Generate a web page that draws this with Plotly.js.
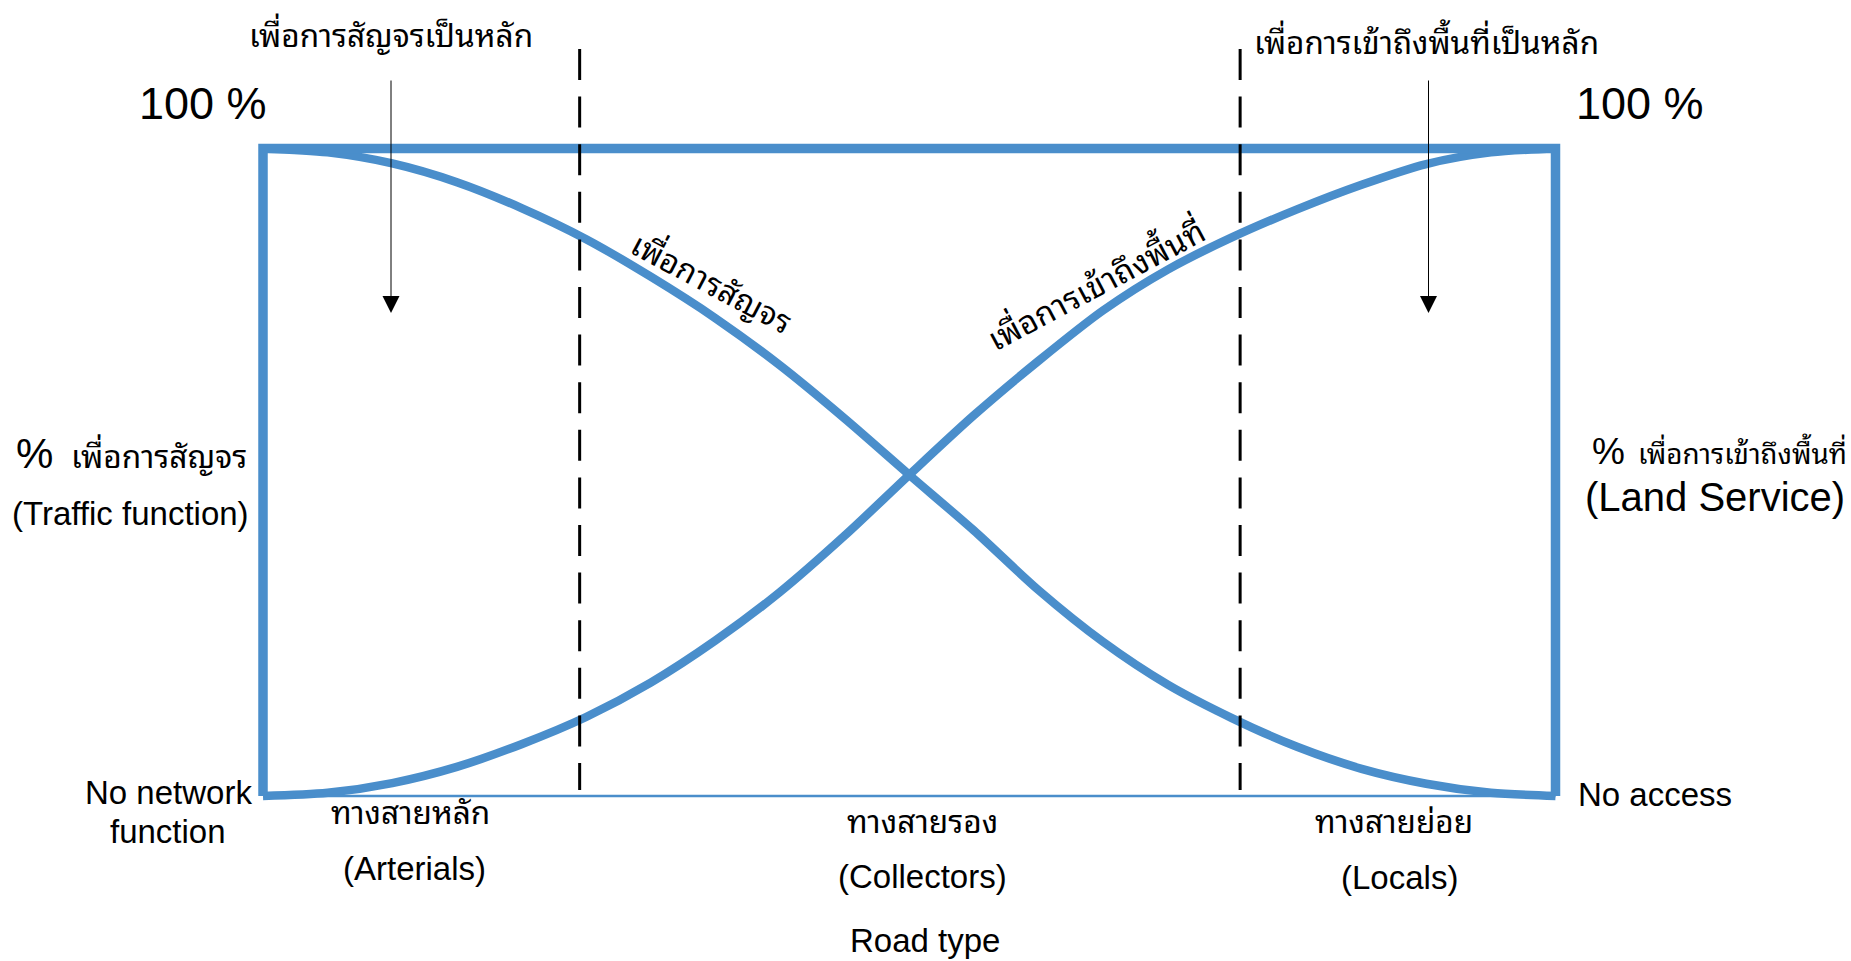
<!DOCTYPE html>
<html>
<head>
<meta charset="utf-8">
<script src="https://cdn.plot.ly/plotly-3.0.1.min.js"></script>
<style>
html,body{margin:0;padding:0;background:#ffffff;}
#chart{width:1851px;height:961px;}
</style>
</head>
<body>
<div id="chart"></div>
<script>
// ---------------- data ----------------
// position along the road hierarchy: 0 = arterial end, 1 = local end
const position = [0, 0.05, 0.1, 0.15, 0.2, 0.25, 0.3, 0.35, 0.4, 0.45, 0.5,
                  0.55, 0.6, 0.65, 0.7, 0.75, 0.8, 0.85, 0.9, 0.95, 1];
// % traffic function (เพื่อการสัญจร)
const trafficPct = [100, 99.4, 97.7, 94.8, 90.8, 86.0, 80.2, 73.8, 66.5, 58.3, 49.6,
                    41.0, 31.8, 23.8, 17.2, 12.0, 7.6, 4.2, 1.9, 0.5, 0];
// % land service / access (เพื่อการเข้าถึงพื้นที่)
const accessPct = [0, 0.5, 2.0, 4.5, 8.0, 12.2, 17.5, 24.0, 31.5, 40.2, 49.6,
                   58.8, 67.2, 75.0, 81.3, 86.3, 90.6, 94.4, 97.6, 99.4, 100];
// road classes and the dividing positions between them
const roadTypesTh = ['ทางสายหลัก', 'ทางสายรอง', 'ทางสายย่อย'];
const roadTypesEn = ['(Arterials)', '(Collectors)', '(Locals)'];
const dividers = [0.245, 0.756];
const curveLabels = ['เพื่อการสัญจร', 'เพื่อการเข้าถึงพื้นที่'];
const mainLabels = ['เพื่อการสัญจรเป็นหลัก', 'เพื่อการเข้าถึงพื้นที่เป็นหลัก'];

// ---------------- layout geometry (pixels) ----------------
const W = 1851, H = 961;
const BOX_L = 263, BOX_R = 1555.5, BOX_T = 148.5, BOX_B = 796;
const pxPerX = BOX_R - BOX_L;          // pixels per 1.0 of position
const pxPerY = (BOX_B - BOX_T) / 100;  // pixels per 1 %
const xr = [-BOX_L / pxPerX, (W - BOX_L) / pxPerX];
const yr = [-(H - BOX_B) / pxPerY, 100 + BOX_T / pxPerY];
const yFromPx = p => (BOX_B - p) / pxPerY;
const PX = x => x / W, PY = y => 1 - y / H;

const BLUE = '#4A8ECB';
const EN = 'Liberation Sans, Arial, sans-serif';
const TH = 'Noto Sans Thai Looped, Noto Sans Thai, Loma, Garuda, Tlwg Typo, Sarabun, sans-serif';

const traces = [
  {x: position, y: trafficPct, type: 'scatter', mode: 'lines',
   line: {color: BLUE, width: 8.5, shape: 'spline', smoothing: 0.8}, hoverinfo: 'skip'},
  {x: position, y: accessPct, type: 'scatter', mode: 'lines',
   line: {color: BLUE, width: 8.5, shape: 'spline', smoothing: 0.8}, hoverinfo: 'skip'}
];

const shapes = [
  {type: 'path', xref: 'x', yref: 'y', path: 'M0,0 L0,100 L1,100 L1,0',
   line: {color: BLUE, width: 9.5}},
  {type: 'line', xref: 'x', yref: 'y', x0: 0, x1: 1, y0: 0, y1: 0,
   line: {color: BLUE, width: 2.5}}
];
dividers.forEach(d => shapes.push({
  type: 'line', xref: 'x', yref: 'y', x0: d, x1: d, y0: yFromPx(49), y1: yFromPx(790),
  line: {color: '#000000', width: 3, dash: '31px,16.6px'}
}));

function txt(text, x, y, size, family, opts) {
  return Object.assign({
    text: text, x: PX(x), y: PY(y), xref: 'paper', yref: 'paper',
    showarrow: false, xanchor: 'center', yanchor: 'middle',
    font: {family: family, size: size, color: '#000000'}
  }, opts || {});
}

const annotations = [
  txt(mainLabels[0], 390.5, 33, 31.6, TH),
  txt(mainLabels[1], 1251.5, 40, 31.5, TH, {xanchor: 'left'}),
  txt('100 %', 203, 104, 45, EN),
  txt('100 %', 1640, 104, 45, EN),
  txt('%', 34.5, 453, 42, EN),
  txt('เพื่อการสัญจร', 68.6, 453, 31.7, TH, {xanchor: 'left'}),
  txt('(Traffic function)', 130.5, 513.5, 33, EN),
  txt('%', 1608.5, 451, 37, EN),
  txt('เพื่อการเข้าถึงพื้นที่', 1635.5, 451, 27.8, TH, {xanchor: 'left'}),
  txt('(Land Service)', 1714.5, 497, 40, EN),
  txt('No network', 168, 792, 33, EN),
  txt('function', 168, 831, 33, EN),
  txt('No access', 1576, 794, 33, EN, {xanchor: 'left'}),
  txt(roadTypesTh[0], 410, 809.5, 31.6, TH),
  txt(roadTypesEn[0], 414.5, 868.5, 33, EN),
  txt(roadTypesTh[1], 922.5, 818.5, 31.7, TH),
  txt(roadTypesEn[1], 922.5, 876.5, 33, EN),
  txt(roadTypesTh[2], 1394, 818.5, 31.6, TH),
  txt(roadTypesEn[2], 1399, 877, 33, EN),
  txt('Road type', 925, 940, 33, EN),
  txt(curveLabels[0], 713, 280, 31.8, TH, {textangle: 28}),
  txt(curveLabels[1], 1095, 283, 32, TH, {textangle: -28}),
  // arrows
  {text: '', x: PX(391), y: PY(313), xref: 'paper', yref: 'paper', showarrow: true,
   ax: 0, ay: -(313 - 79), arrowhead: 2, arrowsize: 3.4, arrowwidth: 1, arrowcolor: '#000000', standoff: 0},
  {text: '', x: PX(1428.5), y: PY(313), xref: 'paper', yref: 'paper', showarrow: true,
   ax: 0, ay: -(313 - 79), arrowhead: 2, arrowsize: 3.4, arrowwidth: 1, arrowcolor: '#000000', standoff: 0}
];

const layout = {
  width: W, height: H,
  margin: {l: 0, r: 0, t: 0, b: 0, pad: 0},
  paper_bgcolor: '#ffffff', plot_bgcolor: '#ffffff',
  showlegend: false,
  xaxis: {range: xr, visible: false, showgrid: false, zeroline: false, fixedrange: true},
  yaxis: {range: yr, visible: false, showgrid: false, zeroline: false, fixedrange: true},
  shapes: shapes,
  annotations: annotations
};

Plotly.newPlot('chart', traces, layout, {displayModeBar: false, staticPlot: true});
</script>
</body>
</html>
